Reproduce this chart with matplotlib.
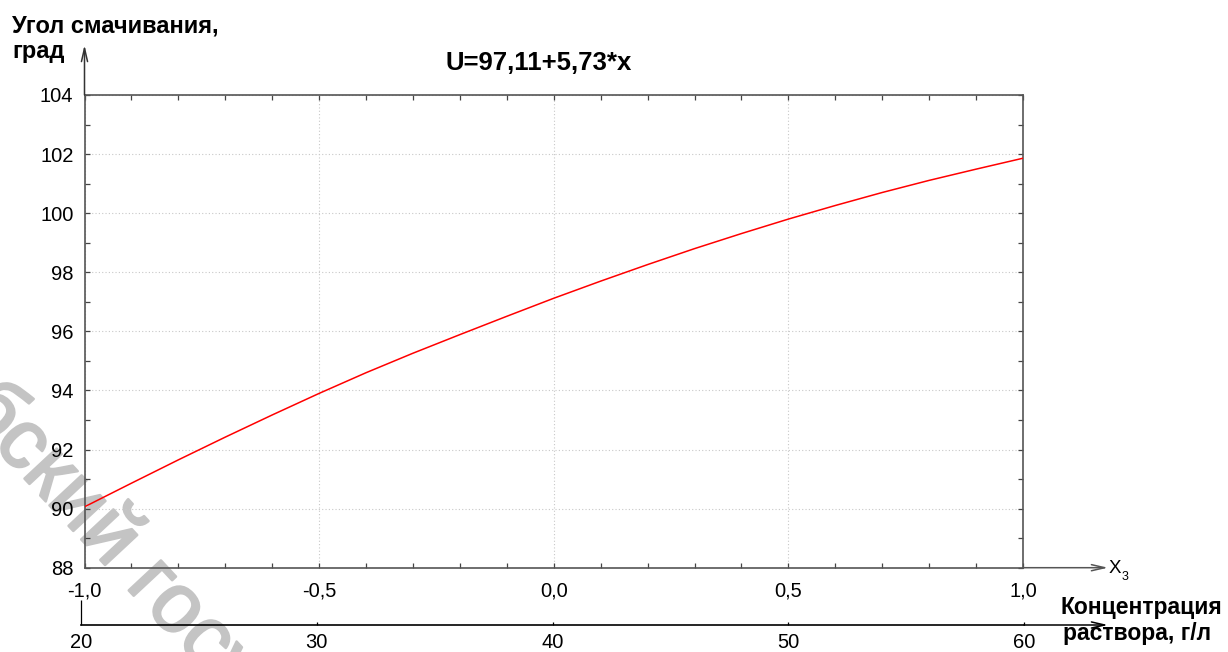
import matplotlib
matplotlib.use("Agg")
import matplotlib.pyplot as plt
import matplotlib.patheffects as pe
from matplotlib.ticker import FixedLocator, MultipleLocator
from matplotlib.patches import FancyArrowPatch

# ---------------- data ----------------
x3 = [-1.0, -0.9, -0.8, -0.7, -0.6, -0.5, -0.4, -0.3, -0.2, -0.1, 0.0,
      0.1, 0.2, 0.3, 0.4, 0.5, 0.6, 0.7, 0.8, 0.9, 1.0]
u_vals = [90.06, 90.86, 91.65, 92.42, 93.17, 93.90, 94.60, 95.26, 95.89, 96.51, 97.12,
          97.70, 98.26, 98.80, 99.31, 99.80, 100.26, 100.70, 101.11, 101.49, 101.86]

x_ticks = [-1.0, -0.5, 0.0, 0.5, 1.0]
x_ticklabels = ["-1,0", "-0,5", "0,0", "0,5", "1,0"]
y_ticks = [88, 90, 92, 94, 96, 98, 100, 102, 104]
y_ticklabels = ["88", "90", "92", "94", "96", "98", "100", "102", "104"]
conc_ticks = [20, 30, 40, 50, 60]
conc_ticklabels = ["20", "30", "40", "50", "60"]

title_text = "U=97,11+5,73*x"
ylabel_lines = ["Угол смачивания,", "град"]
conc_label_lines = ["Концентрация", "раствора, г/л"]

# ---------------- layout ----------------
W, H = 1228, 652
plt.rcParams['font.family'] = ['Liberation Sans', 'DejaVu Sans']
fig = plt.figure(figsize=(W / 100, H / 100), dpi=100)

def fx(px):
    return px / W

def fy(py):
    return 1 - py / H

L, R, T, B = 84.5, 1023.0, 95.0, 567.7
ax = fig.add_axes([fx(L), fy(B), (R - L) / W, (B - T) / H])
ax.patch.set_facecolor('none')

ax.plot(x3, u_vals, color='#ff0000', lw=1.1, zorder=3)
ax.set_xlim(-1, 1)
ax.set_ylim(88, 104)

ax.xaxis.set_major_locator(FixedLocator(x_ticks))
ax.set_xticklabels(x_ticklabels)
ax.xaxis.set_minor_locator(MultipleLocator(0.1))
ax.yaxis.set_major_locator(FixedLocator(y_ticks))
ax.set_yticklabels(y_ticklabels)
ax.yaxis.set_minor_locator(MultipleLocator(1))

ax.tick_params(which='both', direction='in', top=True, right=True,
               length=3.5, width=0.9, color='#444444')
ax.tick_params(axis='x', which='major', labelsize=14.5, pad=10)
ax.tick_params(axis='y', which='major', labelsize=14.5, pad=8)
for s in ax.spines.values():
    s.set_color('#555555')
    s.set_linewidth(1.2)
ax.grid(True, which='major', linestyle=(0, (1, 2)), color='#c8c8c8', lw=0.8)
ax.set_axisbelow(True)

# concentration axis
ax2 = fig.add_axes([fx(81), fy(625), (1024 - 81) / W, 0.0001])
ax2.patch.set_visible(False)
for k in ('top', 'left', 'right'):
    ax2.spines[k].set_visible(False)
ax2.spines['bottom'].set_color('black')
ax2.spines['bottom'].set_linewidth(1.2)
ax2.set_xlim(20, 60)
ax2.set_ylim(0, 1)
ax2.set_yticks([])
ax2.xaxis.set_major_locator(FixedLocator(conc_ticks))
ax2.set_xticklabels(conc_ticklabels)
ax2.tick_params(axis='x', direction='in', length=2.5, width=0.9, color='black',
                labelsize=14.5, pad=5.5)
ax2.xaxis.get_major_ticks()[0].tick1line.set_markersize(18)

# arrows (figure pixel coords: origin bottom-left)
def arrow(p0, p1, color):
    a = FancyArrowPatch((p0[0], H - p0[1]), (p1[0], H - p1[1]),
                        transform=None, arrowstyle='->,head_length=0.95,head_width=0.22',
                        mutation_scale=10, color=color, lw=1.1,
                        shrinkA=0, shrinkB=0)
    fig.add_artist(a)

arrow((R, B), (1108, B), '#555555')
arrow((L, T), (L, 45), '#333333')
arrow((1024, 625), (1108, 625), 'black')

# texts
fig.text(fx(539), fy(62.5), title_text, ha='center', va='center',
         fontsize=18.5, fontweight='bold')
fig.text(fx(12), fy(32), ylabel_lines[0], ha='left', va='baseline',
         fontsize=17, fontweight='bold')
fig.text(fx(12), fy(58), ylabel_lines[1], ha='left', va='baseline',
         fontsize=17, fontweight='bold')
fig.text(fx(1060), fy(614), conc_label_lines[0], ha='left', va='baseline',
         fontsize=16.5, fontweight='bold')
fig.text(fx(1063), fy(640), conc_label_lines[1], ha='left', va='baseline',
         fontsize=16.5, fontweight='bold')
fig.text(fx(1109), fy(573), "X", ha='left', va='baseline', fontsize=13.5)
fig.text(fx(1122), fy(580), "3", ha='left', va='baseline', fontsize=9)

# watermark (behind the chart, cut by the picture edges as in the source)
wm_color = '#c4c4c4'
wm_fx = [pe.withStroke(linewidth=1.8, foreground=wm_color)]
fig.text(fx(-39.7), fy(409.8), "бский государственный", ha='left', va='baseline',
         rotation=-47, rotation_mode='anchor', fontsize=60, color=wm_color,
         zorder=-1, path_effects=wm_fx)
fig.text(fx(-39.7), fy(409.8), "Вите", ha='right', va='baseline',
         rotation=-47, rotation_mode='anchor', fontsize=60, color=wm_color,
         zorder=-1, path_effects=wm_fx)

fig.savefig("out.png", dpi=100)
